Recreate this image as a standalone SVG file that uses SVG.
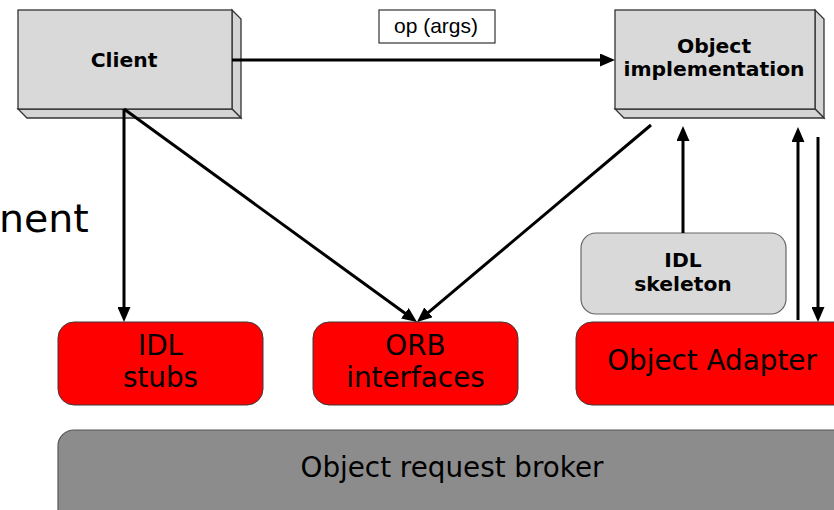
<svg xmlns="http://www.w3.org/2000/svg" width="834" height="510" viewBox="0 0 834 510">
<style>
.face{fill:#d9d9d9;stroke:#333;stroke-width:1.3}
.side{fill:#d4d4d4;stroke:#333;stroke-width:1.3}
.red{fill:#ff0000;stroke:#3a3a3a;stroke-width:1}
.skel{fill:#d9d9d9;stroke:#666;stroke-width:1.2}
.orb{fill:#8c8c8c;stroke:#555;stroke-width:1.2}
.lb{font-family:"DejaVu Sans",Verdana,sans-serif;font-weight:bold;font-size:20.3px;text-anchor:middle;fill:#000}
.lr{font-family:"DejaVu Sans",Verdana,sans-serif;font-size:27.8px;text-anchor:middle;fill:#000}
.conn{stroke:#000;stroke-width:3;fill:none}
</style>
<defs>
<marker id="ah" markerUnits="userSpaceOnUse" markerWidth="15" markerHeight="13" refX="7" refY="6.5" orient="auto">
<path d="M0,0 L15,6.5 L0,13 Z" fill="#000"/>
</marker>
</defs>
<rect width="834" height="510" fill="#fff"/>
<text x="-1" y="232" font-family="DejaVu Sans,Verdana,sans-serif" font-size="39.5" fill="#000">nent</text>

<g id="orb-bar">
<rect class="orb" x="58" y="430" width="810" height="110" rx="16"/>
<text class="lr" x="452" y="477">Object request broker</text>
</g>

<g id="client">
<polygon class="side" points="232,10 241,19 241,118 232,109"/>
<polygon class="side" points="18,109 232,109 241,118 27,118"/>
<rect class="face" x="18" y="10" width="214" height="99"/>
<text class="lb" x="124" y="66.5">Client</text>
</g>

<g id="object-implementation">
<polygon class="side" points="815,10 824,19 824,118 815,109"/>
<polygon class="side" points="615,109 815,109 824,118 624,118"/>
<rect class="face" x="615" y="10" width="200" height="99"/>
<text class="lb" x="714" y="53">Object</text>
<text class="lb" x="714" y="76">implementation</text>
</g>

<g id="op-args">
<rect x="379" y="10" width="116" height="33" fill="#fff" stroke="#333" stroke-width="1.2"/>
<text x="436" y="33" font-family="Liberation Sans,Arial,sans-serif" font-size="21" text-anchor="middle" fill="#000">op (args)</text>
</g>

<g id="idl-skeleton">
<rect class="skel" x="581" y="233" width="205" height="81" rx="15"/>
<text class="lb" x="683" y="267">IDL</text>
<text class="lb" x="683" y="291">skeleton</text>
</g>

<g id="idl-stubs">
<rect class="red" x="58" y="322" width="205" height="83" rx="16"/>
<text class="lr" x="160.5" y="355">IDL</text>
<text class="lr" x="160.5" y="387">stubs</text>
</g>

<g id="orb-interfaces">
<rect class="red" x="313" y="322" width="205" height="83" rx="16"/>
<text class="lr" x="415.5" y="355">ORB</text>
<text class="lr" x="415.5" y="387">interfaces</text>
</g>

<g id="object-adapter">
<rect class="red" x="576" y="322" width="290" height="83" rx="16"/>
<text class="lr" x="712" y="370">Object Adapter</text>
</g>

<g id="connectors">
<line class="conn" x1="232" y1="60" x2="607" y2="60" marker-end="url(#ah)"/>
<line class="conn" x1="124" y1="109" x2="124" y2="314" marker-end="url(#ah)"/>
<line class="conn" x1="124" y1="109" x2="410.5" y2="317.3" marker-end="url(#ah)"/>
<line class="conn" x1="651" y1="125" x2="423.1" y2="316.8" marker-end="url(#ah)"/>
<line class="conn" x1="683" y1="233" x2="683" y2="134" marker-end="url(#ah)"/>
<line class="conn" x1="798" y1="320" x2="798" y2="135" marker-end="url(#ah)"/>
<line class="conn" x1="818" y1="137" x2="818" y2="314" marker-end="url(#ah)"/>
</g>
</svg>
